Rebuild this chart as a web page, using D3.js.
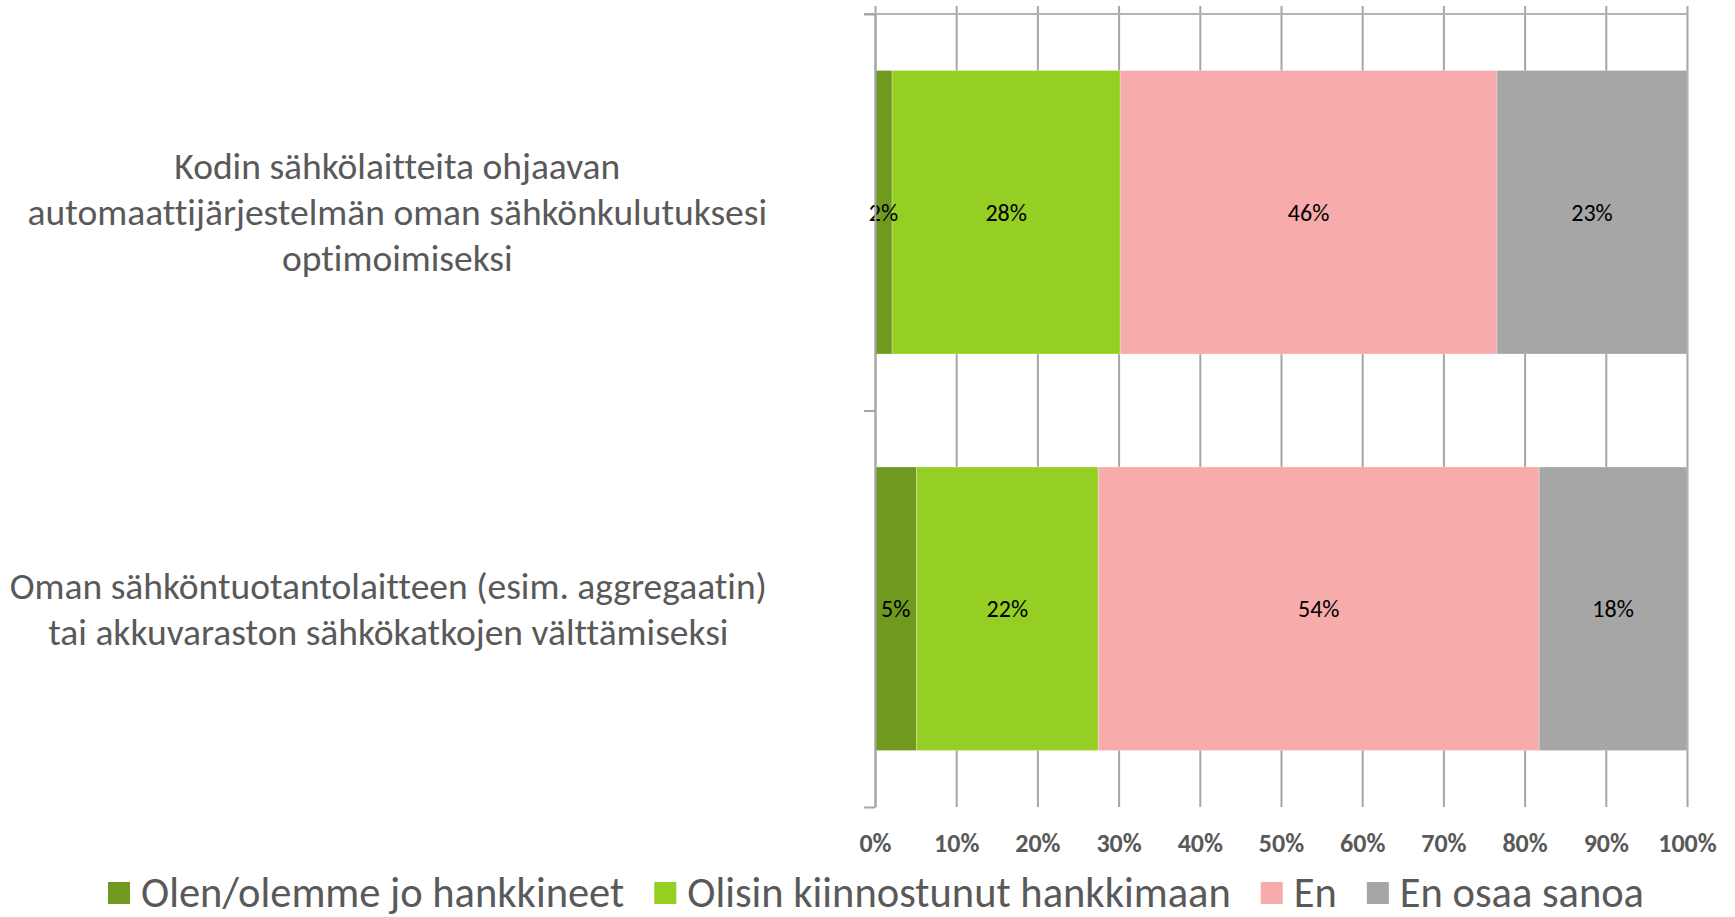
<!DOCTYPE html>
<html>
<head>
<meta charset="utf-8">
<script src="https://cdn.jsdelivr.net/npm/d3@7"></script>
<style>
  html, body { margin: 0; padding: 0; background: #fff; }
  svg { display: block; font-family: Carlito, Calibri, Lato, sans-serif; font-variant-ligatures: none; }
</style>
</head>
<body>
<svg id="chart" width="1735" height="917"></svg>
<script>
// categories (top to bottom), each label split in lines as in the source
const categories = ['kodin', 'oman']
const categoryLines = [
    ['Kodin sähkölaitteita ohjaavan', 'automaattijärjestelmän oman sähkönkulutuksesi', 'optimoimiseksi'],
    ['Oman sähköntuotantolaitteen (esim. aggregaatin)', 'tai akkuvaraston sähkökatkojen välttämiseksi']
]

// series, shares in percent
const seriesNames = ['Olen/olemme jo hankkineet', 'Olisin kiinnostunut hankkimaan', 'En', 'En osaa sanoa']
const seriesColors = ['#6f9a1f', '#95cf23', '#f7abab', '#a6a6a6']
const hankkineet = [2.1, 5.1]
const kiinnostunut = [28.1, 22.4]
const en = [46.4, 54.3]
const enOsaa = [23.4, 18.2]

const ticks = [0, 0.1, 0.2, 0.3, 0.4, 0.5, 0.6, 0.7, 0.8, 0.9, 1]

const svg = d3.select('#chart')

// plot area
const plotLeft = 875, plotRight = 1687
const plotTop = 14, plotBottom = 807

const x = d3.scaleLinear().domain([0, 1]).range([plotLeft, plotRight])
const y = d3.scaleBand().domain(categories).range([plotTop, plotBottom])
    .paddingInner(0.285).paddingOuter(0.1425)

// gridlines
let grid = svg.append('g')
    .attr('transform', `translate(0,${plotTop - 8})`)
    .call(d3.axisBottom(x).tickValues(ticks).tickSize(plotBottom - plotTop + 8).tickFormat(''))
grid.select('.domain').remove()
grid.selectAll('line').attr('stroke', '#a6a6a6').attr('stroke-width', 2)

// top horizontal line
svg.append('line')
    .attr('x1', plotLeft - 11).attr('x2', plotRight)
    .attr('y1', plotTop).attr('y2', plotTop)
    .attr('stroke', '#b3b3b3').attr('stroke-width', 2)

// stacked segments
const segData = []
categories.forEach((c, i) => {
    let vals = [hankkineet[i], kiinnostunut[i], en[i], enOsaa[i]]
    let acc = 0
    vals.forEach((v, j) => {
        segData.push({cat: c, s: j, v: v, x0: acc / 100, x1: (acc + v) / 100})
        acc += v
    })
})

svg.append('g').selectAll('rect')
    .data(segData)
    .join('rect')
    .attr('x', d => x(d.x0))
    .attr('y', d => y(d.cat))
    .attr('width', d => x(d.x1) - x(d.x0))
    .attr('height', y.bandwidth())
    .attr('fill', d => seriesColors[d.s])
    .attr('stroke', '#ffffff')
    .attr('stroke-opacity', 0.25)
    .attr('stroke-width', 1)

// data labels on top of all bars
svg.append('g').selectAll('text')
    .data(segData)
    .join('text')
    .attr('x', d => (x(d.x0) + x(d.x1)) / 2)
    .attr('y', d => y(d.cat) + y.bandwidth() / 2)
    .attr('text-anchor', 'middle')
    .attr('dominant-baseline', 'central')
    .attr('font-size', 24)
    .attr('fill', '#000')
    .text(d => Math.round(d.v) + '%')

// category axis on the left
const catScale = d3.scaleLinear().domain([0, categories.length]).range([plotTop, plotBottom])
let catAxis = svg.append('g')
    .attr('transform', `translate(${plotLeft},0)`)
    .call(d3.axisLeft(catScale).tickValues(d3.range(categories.length + 1)).tickSize(11).tickSizeOuter(0).tickFormat(''))
catAxis.selectAll('line, path').attr('stroke', '#a6a6a6').attr('stroke-width', 2)

// value axis labels
let xAxis = svg.append('g')
    .attr('transform', 'translate(0,843)')
    .call(d3.axisBottom(x).tickValues(ticks).tickSize(0).tickFormat(d3.format('.0%')))
xAxis.select('.domain').remove()
xAxis.selectAll('text')
    .attr('y', 0).attr('dy', '0.35em')
    .attr('font-family', 'Carlito, Calibri, Lato, sans-serif')
    .attr('font-size', 26).attr('font-weight', 'bold').attr('fill', '#595959')

// category labels, block right-aligned, lines centered in block
const labelRight = 767
const catLabels = svg.append('g').selectAll('text')
    .data(categories)
    .join('text')
    .attr('font-size', 37.5)
    .attr('fill', '#595959')
    .attr('text-anchor', 'middle')

catLabels.each(function(c, i) {
    let t = d3.select(this)
    let lines = categoryLines[i]
    let lh = 46
    let cy = y(c) + y.bandwidth() / 2
    lines.forEach((ln, k) => {
        t.append('tspan')
            .attr('y', cy + (k - (lines.length - 1) / 2) * lh)
            .attr('dy', '0.35em')
            .text(ln)
    })
    let w = d3.max(t.selectAll('tspan').nodes(), n => n.getComputedTextLength())
    t.selectAll('tspan').attr('x', labelRight - w / 2)
})

// legend
const legend = svg.append('g').attr('transform', 'translate(0,893)')
const items = legend.selectAll('g')
    .data(seriesNames)
    .join('g')
items.append('rect')
    .attr('y', -11).attr('width', 22).attr('height', 22)
    .attr('fill', (d, i) => seriesColors[i])
items.append('text')
    .attr('x', 33).attr('dy', '0.33em')
    .attr('font-size', 42.5).attr('fill', '#595959')
    .text(d => d)

let pos = 0
const offsets = []
items.each(function() {
    offsets.push(pos)
    pos += 33 + d3.select(this).select('text').node().getComputedTextLength() + 30
})
pos -= 30
const startX = 876 - pos / 2
items.attr('transform', (d, i) => `translate(${startX + offsets[i]},0)`)
</script>
</body>
</html>
